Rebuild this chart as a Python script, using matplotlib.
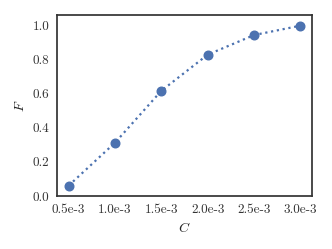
import matplotlib
matplotlib.use("Agg")
import matplotlib.pyplot as plt
import seaborn as sns

# data
C = [0.5e-3, 1.0e-3, 1.5e-3, 2.0e-3, 2.5e-3, 3.0e-3]
F = [0.061, 0.313, 0.618, 0.830, 0.945, 1.0]
xlabels = ["0.5e-3", "1.0e-3", "1.5e-3", "2.0e-3", "2.5e-3", "3.0e-3"]
yticks = [0.0, 0.2, 0.4, 0.6, 0.8, 1.0]

sns.set_style("white")
plt.rcParams['font.family'] = 'serif'
plt.rcParams['font.serif'] = ['cmr10', 'DejaVu Serif']
plt.rcParams['mathtext.fontset'] = 'cm'
plt.rcParams['axes.formatter.use_mathtext'] = True

fig, ax = plt.subplots(figsize=(3.32, 2.49), dpi=100)
ax.plot(C, F, ':', color='#4c72b0', lw=1.6, marker='o', markersize=6.2)

ax.set_xticks(C)
ax.set_xticklabels(xlabels, fontsize=9.5)
ax.set_yticks(yticks)
ax.set_yticklabels(["%.1f" % v for v in yticks], fontsize=9.5)
ax.set_ylim(0, 1.063)
ax.set_xlabel(r'$C$', fontsize=10)
ax.set_ylabel(r'$F$', fontsize=10)
for s in ax.spines.values():
    s.set_color('#333333')
    s.set_linewidth(1.25)
ax.tick_params(colors='#333333', pad=2)

plt.subplots_adjust(left=0.172, right=0.94, top=0.94, bottom=0.213)
plt.savefig("out.png")
